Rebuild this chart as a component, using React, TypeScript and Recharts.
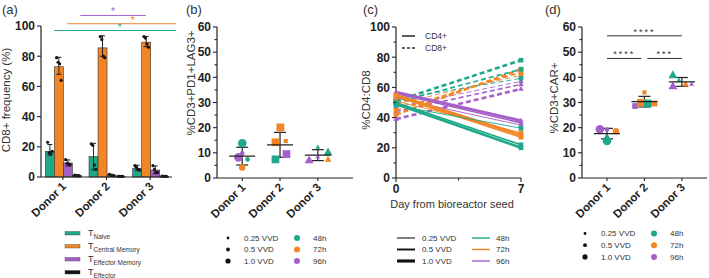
import React from 'react';
import {
  ComposedChart,
  Bar,
  ErrorBar,
  XAxis,
  YAxis,
  ReferenceLine,
  ScatterChart,
  Scatter,
  LineChart,
  Line,
} from 'recharts';

const TEAL = '#1fa98a';
const ORANGE = '#f28526';
const PURPLE = '#a45fc8';
const INK = '#222';
const FONT = '"Liberation Sans", Arial, sans-serif';

// ---- shared categories
const donors = ['Donor 1', 'Donor 2', 'Donor 3'];
const vvdLabels = ['0.25 VVD', '0.5 VVD', '1.0 VVD'];
const timeLabels = ['48h', '72h', '96h'];

// ---- (a) CD8+ subsets
const naiveMean = [17, 13.5, 5.8];
const naiveErr = [[2.5, 4.5], [8.8, 8.8], [1.5, 2]];
const naiveReps = [[23, 16, 15, 17], [22, 21, 8, 5], [7.5, 6.5, 5, 4.5]];
const cmMean = [73, 85.5, 89.3];
const cmErr = [[5, 6.3], [5.5, 8], [3, 3.8]];
const cmReps = [[79, 76, 75, 64], [93, 91, 80, 79], [93, 92, 88, 86]];
const emMean = [9.3, 1.3, 4.6];
const emErr = [[2, 2], [0.5, 0.5], [2.5, 2.7]];
const emReps = [[11.5, 9, 8.5, 8], [1.8, 1.2, 1, 0.8], [7.5, 5, 3, 3]];
const effMean = [1, 0.5, 0.5];
const effErr = [[0.3, 0.3], [0.2, 0.2], [0.2, 0.2]];
const effReps = [[1.2, 0.9, 1, 0.7], [0.5, 0.4, 0.4, 0.5], [0.6, 0.5, 0.4, 0.4]];
const subsetLabels = ['Naive', 'Central Memory', 'Effector Memory', 'Effector'];

// significance bars in (a): subset index, from/to donor index, height
const sigA = [
  { subset: 0, from: 0, to: 2, y: 97 },
  { subset: 1, from: 0, to: 2, y: 101.5 },
  { subset: 2, from: 0, to: 1, y: 107 },
];

// ---- (b) %CD3+PD1+LAG3+
const pdPoints = [
  { donor: 'Donor 1', x: 1.0, y: 13.8, vvd: '1.0 VVD', time: '48h' },
  { donor: 'Donor 1', x: 0.9, y: 8.2, vvd: '1.0 VVD', time: '96h' },
  { donor: 'Donor 1', x: 1.0, y: 9.8, vvd: '0.25 VVD', time: '96h' },
  { donor: 'Donor 1', x: 1.14, y: 7.4, vvd: '0.25 VVD', time: '48h' },
  { donor: 'Donor 1', x: 1.0, y: 4.2, vvd: '0.5 VVD', time: '72h' },
  { donor: 'Donor 2', x: 2.01, y: 20.1, vvd: '1.0 VVD', time: '72h' },
  { donor: 'Donor 2', x: 1.88, y: 14.2, vvd: '1.0 VVD', time: '72h' },
  { donor: 'Donor 2', x: 2.15, y: 14.7, vvd: '0.25 VVD', time: '72h' },
  { donor: 'Donor 2', x: 1.88, y: 7.4, vvd: '1.0 VVD', time: '48h' },
  { donor: 'Donor 2', x: 2.17, y: 9.5, vvd: '1.0 VVD', time: '96h' },
  { donor: 'Donor 3', x: 3.0, y: 12.3, vvd: '0.25 VVD', time: '48h' },
  { donor: 'Donor 3', x: 3.27, y: 10.2, vvd: '1.0 VVD', time: '48h' },
  { donor: 'Donor 3', x: 2.77, y: 7.1, vvd: '1.0 VVD', time: '96h' },
  { donor: 'Donor 3', x: 3.0, y: 8.4, vvd: '0.25 VVD', time: '96h' },
  { donor: 'Donor 3', x: 3.27, y: 7.4, vvd: '0.5 VVD', time: '72h' },
];

// ---- (c) %CD4:CD8 day 0 -> day 7
const cd4Lines = [
  { vvd: '0.25 VVD', time: '96h', d0: 53, d7: 35 },
  { vvd: '0.5 VVD', time: '96h', d0: 56, d7: 36.5 },
  { vvd: '1.0 VVD', time: '96h', d0: 57, d7: 38 },
  { vvd: '0.25 VVD', time: '72h', d0: 51, d7: 30 },
  { vvd: '0.5 VVD', time: '72h', d0: 54, d7: 27 },
  { vvd: '1.0 VVD', time: '72h', d0: 55, d7: 28.5 },
  { vvd: '0.25 VVD', time: '48h', d0: 48, d7: 33 },
  { vvd: '0.5 VVD', time: '48h', d0: 50, d7: 22 },
  { vvd: '1.0 VVD', time: '48h', d0: 49, d7: 20 },
];
const cd8Lines = [
  { vvd: '0.25 VVD', time: '96h', d0: 47, d7: 64 },
  { vvd: '0.5 VVD', time: '96h', d0: 44, d7: 62 },
  { vvd: '1.0 VVD', time: '96h', d0: 39, d7: 59 },
  { vvd: '0.25 VVD', time: '72h', d0: 49, d7: 68 },
  { vvd: '0.5 VVD', time: '72h', d0: 45, d7: 70 },
  { vvd: '1.0 VVD', time: '72h', d0: 42, d7: 72 },
  { vvd: '0.25 VVD', time: '48h', d0: 52, d7: 66 },
  { vvd: '0.5 VVD', time: '48h', d0: 50, d7: 72 },
  { vvd: '1.0 VVD', time: '48h', d0: 51, d7: 78 },
];

// ---- (d) %CD3+CAR+
const carPoints = [
  { donor: 'Donor 1', x: 0.81, y: 19.4, vvd: '1.0 VVD', time: '96h' },
  { donor: 'Donor 1', x: 1.0, y: 19.3, vvd: '0.25 VVD', time: '96h' },
  { donor: 'Donor 1', x: 1.24, y: 18.6, vvd: '0.5 VVD', time: '72h' },
  { donor: 'Donor 1', x: 1.0, y: 14.7, vvd: '1.0 VVD', time: '48h' },
  { donor: 'Donor 1', x: 1.0, y: 16.2, vvd: '0.25 VVD', time: '48h' },
  { donor: 'Donor 2', x: 2.0, y: 34.0, vvd: '0.25 VVD', time: '72h' },
  { donor: 'Donor 2', x: 1.75, y: 28.6, vvd: '0.5 VVD', time: '96h' },
  { donor: 'Donor 2', x: 1.91, y: 29.9, vvd: '1.0 VVD', time: '72h' },
  { donor: 'Donor 2', x: 2.09, y: 29.6, vvd: '1.0 VVD', time: '48h' },
  { donor: 'Donor 2', x: 2.27, y: 29.6, vvd: '0.5 VVD', time: '72h' },
  { donor: 'Donor 3', x: 2.76, y: 40.9, vvd: '1.0 VVD', time: '48h' },
  { donor: 'Donor 3', x: 2.92, y: 38.9, vvd: '0.25 VVD', time: '48h' },
  { donor: 'Donor 3', x: 2.76, y: 36.5, vvd: '1.0 VVD', time: '96h' },
  { donor: 'Donor 3', x: 3.1, y: 37.3, vvd: '0.5 VVD', time: '72h' },
  { donor: 'Donor 3', x: 3.26, y: 37.3, vvd: '0.25 VVD', time: '96h' },
];
const sigD = [
  { from: 1, to: 3, y: 56.5, label: '****' },
  { from: 1, to: 1.92, y: 47.5, label: '****' },
  { from: 2.08, to: 3, y: 47.5, label: '***' },
];

// ---- styling lookups
const timeColor: Record<string, string> = { '48h': TEAL, '72h': ORANGE, '96h': PURPLE };
const vvdRadius: Record<string, number> = { '0.25 VVD': 2.3, '0.5 VVD': 3.2, '1.0 VVD': 4.3 };
const vvdWidth: Record<string, number> = { '0.25 VVD': 0.9, '0.5 VVD': 1.6, '1.0 VVD': 2.6 };
const donorShape = ['circle', 'square', 'triangle'];
const subsetColors = [TEAL, ORANGE, PURPLE, '#111'];

const barRows = donors.map((donor, i) => ({
  donor,
  naive: naiveMean[i], naiveErr: naiveErr[i], naiveReps: naiveReps[i],
  cm: cmMean[i], cmErr: cmErr[i], cmReps: cmReps[i],
  em: emMean[i], emErr: emErr[i], emReps: emReps[i],
  eff: effMean[i], effErr: effErr[i], effReps: effReps[i],
}));
const barKeys = ['naive', 'cm', 'em', 'eff'];

function summarize(points: { donor: string; y: number }[]) {
  return donors.map((d, i) => {
    const ys = points.filter((p) => p.donor === d).map((p) => p.y);
    const m = ys.reduce((a, b) => a + b, 0) / ys.length;
    const sd = Math.sqrt(ys.reduce((a, b) => a + (b - m) ** 2, 0) / (ys.length - 1));
    return { x: i + 1, y: m, sd };
  });
}

// ---- ticks
const yTick = (majorStep: number) => (props: any) => {
  const { x, y, payload } = props;
  const v = payload.value;
  const major = Math.abs(v / majorStep - Math.round(v / majorStep)) < 1e-6;
  return (
    <g>
      <line x1={x - (major ? 4 : 2.5)} x2={x} y1={y} y2={y} stroke={INK} strokeWidth={1.1} />
      {major && (
        <text x={x - 6} y={y} dy="0.36em" textAnchor="end" fontSize={12} fontWeight="bold" fill={INK} fontFamily={FONT}>
          {v}
        </text>
      )}
    </g>
  );
};

const DonorTick = (props: any) => {
  const { x, y, payload } = props;
  const v = payload.value;
  const label = typeof v === 'number' ? donors[v - 1] : v;
  return (
    <g>
      <line x1={x} x2={x} y1={y} y2={y + 3} stroke={INK} strokeWidth={1.1} />
      <text
        transform={`translate(${x + 4},${y + 10}) rotate(-45)`}
        textAnchor="end"
        fontSize={11.5}
        fontWeight="bold"
        fill={INK}
        fontFamily={FONT}
      >
        {label}
      </text>
    </g>
  );
};

const DayTick = (props: any) => {
  const { x, y, payload } = props;
  const v = payload.value;
  const major = v === 0 || v === 7;
  return (
    <g>
      <line x1={x} x2={x} y1={y} y2={y + (major ? 4 : 2.5)} stroke={INK} strokeWidth={1.1} />
      {major && (
        <text x={x} y={y + 15} textAnchor="middle" fontSize={12} fontWeight="bold" fill={INK} fontFamily={FONT}>
          {v}
        </text>
      )}
    </g>
  );
};

// ---- marks
function Marker({ cx, cy, shape, r, fill }: { cx: number; cy: number; shape: string; r: number; fill: string }) {
  if (shape === 'square') return <rect x={cx - r * 0.9} y={cy - r * 0.9} width={r * 1.8} height={r * 1.8} fill={fill} />;
  if (shape === 'triangle')
    return (
      <polygon
        points={`${cx},${cy - r * 1.1} ${cx - r * 1.05},${cy + r * 0.75} ${cx + r * 1.05},${cy + r * 0.75}`}
        fill={fill}
      />
    );
  return <circle cx={cx} cy={cy} r={r} fill={fill} />;
}

const PointShape = (props: any) => {
  const { cx, cy, payload } = props;
  return (
    <Marker
      cx={cx}
      cy={cy}
      shape={donorShape[donors.indexOf(payload.donor)]}
      r={vvdRadius[payload.vvd]}
      fill={timeColor[payload.time]}
    />
  );
};

const MeanShape = (props: any) => {
  const { cx, cy } = props;
  return <line x1={cx - 13} x2={cx + 13} y1={cy} y2={cy} stroke={INK} strokeWidth={1.2} />;
};

const dottedBar = (field: string) => (props: any) => {
  const { x, y, width, height, fill, payload } = props;
  const value = payload[field];
  const reps: number[] = payload[field + 'Reps'];
  const unit = value > 0 ? height / value : 0;
  const base = y + height;
  return (
    <g>
      <rect x={x} y={y} width={width} height={height} fill={fill} stroke="#333" strokeWidth={0.6} />
      {reps.map((r, i) => (
        <circle
          key={i}
          cx={x + width * (0.25 + (0.5 * i) / (reps.length - 1))}
          cy={base - r * unit}
          r={1.6}
          fill="#111"
        />
      ))}
    </g>
  );
};

const axisLine = { stroke: INK, strokeWidth: 1.2 };

function PanelA() {
  return (
    <ComposedChart
      width={176}
      height={278}
      data={barRows}
      margin={{ top: 26, right: 4, bottom: 61, left: 0 }}
      barCategoryGap="10%"
      barGap={0}
    >
      <XAxis
        xAxisId="cat"
        dataKey="donor"
        height={40}
        tickSize={0}
        tickMargin={0}
        tickLine={false}
        axisLine={axisLine}
        tick={DonorTick}
        interval={0}
      />
      <XAxis xAxisId="num" type="number" domain={[0, 3]} allowDataOverflow hide />
      <YAxis
        width={41}
        domain={[0, 100]}
        ticks={[0, 20, 40, 60, 80, 100]}
        interval={0}
        tickSize={0}
        tickMargin={0}
        tickLine={false}
        axisLine={axisLine}
        tick={yTick(20)}
      />
      {barKeys.map((k, i) => (
        <Bar key={k} xAxisId="cat" dataKey={k} fill={subsetColors[i]} shape={dottedBar(k)} isAnimationActive={false}>
          <ErrorBar dataKey={k + 'Err'} width={2.5} stroke={INK} strokeWidth={1} />
        </Bar>
      ))}
      {sigA.map((s, i) => (
        <ReferenceLine
          key={i}
          xAxisId="num"
          ifOverflow="visible"
          segment={[
            { x: s.from + (s.subset + 1) * 0.2, y: s.y },
            { x: s.to + (s.subset + 1) * 0.2, y: s.y },
          ]}
          stroke={subsetColors[s.subset]}
          strokeWidth={1}
          label={{ value: '*', position: 'top', offset: 0, fill: subsetColors[s.subset], fontSize: 10 }}
        />
      ))}
    </ComposedChart>
  );
}

function DotPanel({
  points,
  width,
  yWidth,
  xMax,
  sig,
}: {
  points: typeof pdPoints;
  width: number;
  yWidth: number;
  xMax: number;
  sig?: typeof sigD;
}) {
  const summary = summarize(points);
  return (
    <ScatterChart width={width} height={278} margin={{ top: 27, right: 2, bottom: 60, left: 0 }}>
      <XAxis
        dataKey="x"
        type="number"
        domain={[0.333, xMax]}
        allowDataOverflow
        ticks={[1, 2, 3]}
        interval={0}
        height={40}
        tickSize={0}
        tickMargin={0}
        tickLine={false}
        axisLine={axisLine}
        tick={DonorTick}
      />
      <YAxis
        dataKey="y"
        type="number"
        width={yWidth}
        domain={[0, 60]}
        ticks={[0, 5, 10, 15, 20, 25, 30, 35, 40, 45, 50, 55, 60]}
        interval={0}
        tickSize={0}
        tickMargin={0}
        tickLine={false}
        axisLine={axisLine}
        tick={yTick(10)}
      />
      <Scatter data={points} shape={PointShape} isAnimationActive={false} />
      <Scatter data={summary} shape={MeanShape} isAnimationActive={false}>
        <ErrorBar dataKey="sd" direction="y" width={6} stroke={INK} strokeWidth={1.2} />
      </Scatter>
      {(sig || []).map((s, i) => (
        <ReferenceLine
          key={i}
          ifOverflow="visible"
          segment={[
            { x: s.from, y: s.y },
            { x: s.to, y: s.y },
          ]}
          stroke="#333"
          strokeWidth={1}
          label={{ value: s.label, position: 'top', offset: 1, fill: '#333', fontSize: 9, letterSpacing: 2 }}
        />
      ))}
    </ScatterChart>
  );
}

const lineDot = (time: string) => (props: any) => {
  const { cx, cy, key } = props;
  return <Marker key={key} cx={cx} cy={cy} shape={time === '96h' ? 'triangle' : 'square'} r={2.6} fill={timeColor[time]} />;
};

function PanelC() {
  const all = [
    ...cd8Lines.map((l) => ({ ...l, dashed: true })),
    ...cd4Lines.map((l) => ({ ...l, dashed: false })),
  ];
  return (
    <LineChart width={175} height={278} margin={{ top: 27, right: 9, bottom: 60, left: 0 }}>
      <XAxis
        dataKey="day"
        type="number"
        domain={[0, 7]}
        ticks={[0, 3.5, 7]}
        interval={0}
        height={40}
        tickSize={0}
        tickMargin={0}
        tickLine={false}
        axisLine={axisLine}
        tick={DayTick}
      />
      <YAxis
        width={41}
        domain={[0, 100]}
        ticks={[0, 10, 20, 30, 40, 50, 60, 70, 80, 90, 100]}
        interval={0}
        tickSize={0}
        tickMargin={0}
        tickLine={false}
        axisLine={axisLine}
        tick={yTick(20)}
      />
      {all.map((l, i) => (
        <Line
          key={i}
          data={[
            { day: 0, v: l.d0 },
            { day: 7, v: l.d7 },
          ]}
          dataKey="v"
          stroke={timeColor[l.time]}
          strokeWidth={vvdWidth[l.vvd]}
          strokeDasharray={l.dashed ? '5 3' : undefined}
          dot={lineDot(l.time)}
          isAnimationActive={false}
        />
      ))}
    </LineChart>
  );
}

const txt = { fontFamily: FONT, fill: '#333' } as const;

function DotLegend({ x, y, gap }: { x: number; y: number; gap: number }) {
  return (
    <g>
      {vvdLabels.map((v, i) => (
        <g key={v}>
          <circle cx={x} cy={y + i * gap} r={vvdRadius[v] * 0.6} fill="#111" />
          <text x={x + 16} y={y + i * gap} dy="0.35em" fontSize={8} {...txt}>{v}</text>
        </g>
      ))}
      {timeLabels.map((t, i) => (
        <g key={t}>
          <circle cx={x + 69} cy={y + i * gap} r={3} fill={timeColor[t]} />
          <text x={x + 85} y={y + i * gap} dy="0.35em" fontSize={8} {...txt}>{t}</text>
        </g>
      ))}
    </g>
  );
}

function Overlay() {
  return (
    <svg width={709} height={278} style={{ position: 'absolute', left: 0, top: 0, pointerEvents: 'none' }}>
      {/* panel letters */}
      <text x={2} y={14} fontSize={13} {...txt}>(a)</text>
      <text x={186} y={14} fontSize={13} {...txt}>(b)</text>
      <text x={363} y={14} fontSize={13} {...txt}>(c)</text>
      <text x={545} y={14} fontSize={13} {...txt}>(d)</text>

      {/* axis titles */}
      <text transform="translate(10,100) rotate(-90)" textAnchor="middle" fontSize={11.5} {...txt}>CD8+ frequency  (%)</text>
      <text transform="translate(195,83) rotate(-90)" textAnchor="middle" fontSize={11.5} {...txt}>%CD3+PD1+LAG3+</text>
      <text transform="translate(370,100) rotate(-90)" textAnchor="middle" fontSize={11.5} {...txt}>%CD4:CD8</text>
      <text transform="translate(558,98) rotate(-90)" textAnchor="middle" fontSize={11.5} {...txt}>%CD3+CAR+</text>
      <text x={452} y={208} textAnchor="middle" fontSize={11} {...txt}>Day from bioreactor seed</text>

      {/* (a) legend */}
      {subsetLabels.map((s, i) => (
        <g key={s}>
          <rect x={65} y={231.5 + i * 13} width={15} height={3.5} fill={subsetColors[i]} stroke="#444" strokeWidth={0.4} />
          <text x={88} y={233 + i * 13} dy="0.35em" fontSize={9} {...txt}>
            T<tspan fontSize={6.5} dy={2.5}>{s}</tspan>
          </text>
        </g>
      ))}

      {/* (b) legend */}
      <DotLegend x={228} y={238} gap={11.5} />
      {/* (d) legend */}
      <DotLegend x={585} y={233.5} gap={11.7} />

      {/* (c) legends */}
      <line x1={402} x2={415} y1={36} y2={36} stroke="#333" strokeWidth={1.6} />
      <text x={425} y={36} dy="0.35em" fontSize={8.5} {...txt}>CD4+</text>
      <line x1={402} x2={415} y1={48} y2={48} stroke="#333" strokeWidth={1.6} strokeDasharray="3 2" />
      <text x={425} y={48} dy="0.35em" fontSize={8.5} {...txt}>CD8+</text>
      {vvdLabels.map((v, i) => (
        <g key={v}>
          <line x1={397} x2={415} y1={238 + i * 11.5} y2={238 + i * 11.5} stroke="#111" strokeWidth={vvdWidth[v] * 1.2} />
          <text x={422} y={238 + i * 11.5} dy="0.35em" fontSize={8} {...txt}>{v}</text>
        </g>
      ))}
      {timeLabels.map((t, i) => (
        <g key={t}>
          <line x1={472} x2={490} y1={238 + i * 11.5} y2={238 + i * 11.5} stroke={timeColor[t]} strokeWidth={1.4} />
          <text x={496} y={238 + i * 11.5} dy="0.35em" fontSize={8} {...txt}>{t}</text>
        </g>
      ))}
    </svg>
  );
}

export default function App() {
  return (
    <div style={{ position: 'absolute', left: 0, top: 0, width: 709, height: 278, background: '#fff', overflow: 'hidden', fontFamily: FONT }}>
      <div style={{ position: 'absolute', left: 0, top: 0 }}>
        <PanelA />
      </div>
      <div style={{ position: 'absolute', left: 175, top: 0 }}>
        <DotPanel points={pdPoints} width={180} yWidth={42} xMax={3.93} />
      </div>
      <div style={{ position: 'absolute', left: 355, top: 0 }}>
        <PanelC />
      </div>
      <div style={{ position: 'absolute', left: 530, top: 0 }}>
        <DotPanel points={carPoints} width={179} yWidth={52} xMax={3.67} sig={sigD} />
      </div>
      <Overlay />
    </div>
  );
}
